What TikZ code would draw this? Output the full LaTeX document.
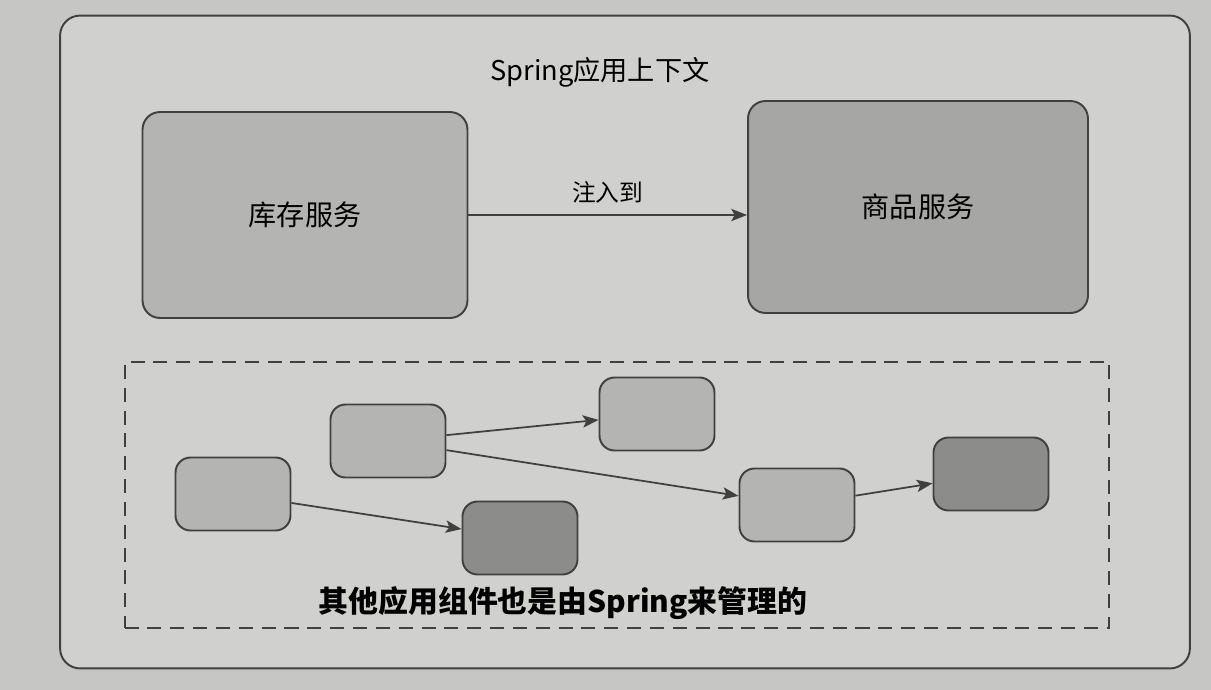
\documentclass[tikz,border=0pt]{standalone}
\usepackage{fontspec}
\setmainfont{Noto Sans CJK SC}
\usetikzlibrary{positioning, calc, arrows.meta}
\definecolor{pagegray}{HTML}{C6C6C4}
\definecolor{ctxgray}{HTML}{D0D0CE}
\definecolor{lightbean}{HTML}{B4B4B2}
\definecolor{midbean}{HTML}{A6A6A4}
\definecolor{darkbean}{HTML}{8C8C8A}
\tikzstyle{ctxbox} = [rectangle, rounded corners=0.4cm, draw=black!75, line width=1.1pt, fill=ctxgray]
\tikzstyle{service} = [rectangle, rounded corners=0.35cm, draw=black!75, line width=1.1pt, text centered, font=\fontsize{16}{18}\selectfont]
\tikzstyle{bean} = [rectangle, rounded corners=0.3cm, minimum width=2.3cm, minimum height=1.46cm, draw=black!75, line width=1.1pt, fill=lightbean]
\tikzstyle{darkbean} = [bean, fill=darkbean]
\tikzstyle{arrow} = [-{Stealth[length=9pt, width=7pt, inset=2pt]}, line width=1pt, draw=black!75]

\begin{document}
\begin{tikzpicture}[x=0.02cm, y=-0.02cm]
  \fill[pagegray] (0,0) rectangle (1211,690);
  \useasboundingbox (0,0) rectangle (1211,690);
  % 容器
  \node (ctx) [ctxbox, minimum width=22.6cm, minimum height=13.06cm] at (625,342) {};
  \node (title) at (600,72) {\fontsize{15.5}{18}\selectfont Spring应用上下文};
  \node (stock) [service, minimum width=6.5cm, minimum height=4.12cm, fill=lightbean] at (305,215) {库存服务};
  \node (goods) [service, minimum width=6.8cm, minimum height=4.24cm, fill=midbean] at (918,207) {商品服务};
  \draw [arrow] (stock.east) -- node[above=3pt, font=\fontsize{13.5}{15}\selectfont] {注入到} (stock.east -| goods.west);

  % 其他组件
  \node (others) [draw=black!75, line width=1.1pt, dash pattern=on 8pt off 5pt, minimum width=19.7cm, minimum height=5.32cm] at (617,495) {};
  \node (beanA) [bean] at (233,494) {};
  \node (beanB) [bean] at (388,441) {};
  \node (beanC) [bean] at (657,414) {};
  \node (beanD) [darkbean] at (520,538) {};
  \node (beanE) [bean] at (797,505) {};
  \node (beanF) [darkbean] at (991,474) {};
  \node (note) at (563,603) {\fontsize{17}{20}\selectfont\bfseries 其他应用组件也是由Spring来管理的};

  \draw [arrow] (beanA) -- (beanD);
  \draw [arrow] (beanB) -- (beanC);
  \draw [arrow] (beanB) -- (beanE);
  \draw [arrow] (beanE) -- (beanF);
\end{tikzpicture}
\end{document}
